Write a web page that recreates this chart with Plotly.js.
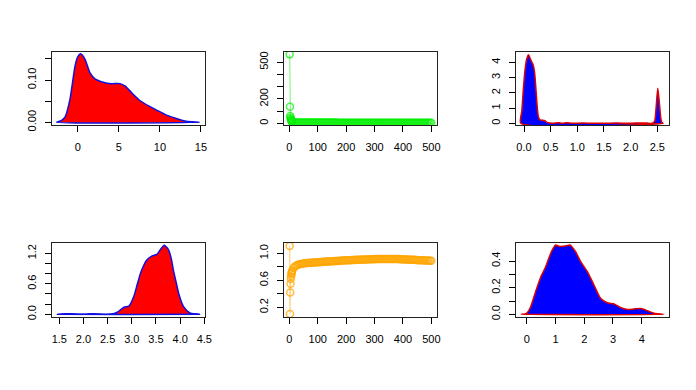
<!DOCTYPE html>
<html>
<head>
<meta charset="utf-8">
<script src="https://cdn.plot.ly/plotly-3.0.1.min.js"></script>
<style>
  html, body { margin: 0; padding: 0; background: #fff; }
  #chart { width: 696px; height: 390px; }
</style>
</head>
<body>
<div id="chart"></div>
<script>
// Panel 1: density, red fill / blue border
const dens1X = [-2.57, -2.0, -1.55, -0.94, -0.33, 0.0, 0.36, 0.89, 1.5, 2.1, 3.1, 4.1, 5.15, 5.75, 6.57, 7.6, 8.8, 9.6, 10.8, 12.0, 13.05, 13.9, 14.8];
const dens1Y = [0.0, 0.004, 0.012, 0.055, 0.133, 0.155, 0.162, 0.149, 0.117, 0.103, 0.095, 0.0915, 0.0915, 0.086, 0.070, 0.051, 0.037, 0.029, 0.017, 0.009, 0.003, 0.001, 0.0];

// Panel 2: green trace, 500 iterations (read every step, then every 5th)
const trace2X = [1, 2, 3, 4, 5, 6, 7, 8, 9, 10,
  15, 20, 25, 30, 35, 40, 45, 50, 55, 60, 65, 70, 75, 80, 85, 90, 95, 100,
  105, 110, 115, 120, 125, 130, 135, 140, 145, 150, 155, 160, 165, 170, 175, 180, 185, 190, 195, 200,
  205, 210, 215, 220, 225, 230, 235, 240, 245, 250, 255, 260, 265, 270, 275, 280, 285, 290, 295, 300,
  305, 310, 315, 320, 325, 330, 335, 340, 345, 350, 355, 360, 365, 370, 375, 380, 385, 390, 395, 400,
  405, 410, 415, 420, 425, 430, 435, 440, 445, 450, 455, 460, 465, 470, 475, 480, 485, 490, 495, 500];
const trace2Y = [565, 136, 60, 45, 35, 28, 22, 18, 15, 13,
  9, 7.5, 7, 6.8, 6.6, 6.5, 6.4, 6.3, 6.2, 6.2, 6.1, 6.1, 6.0, 6.0, 6.0, 5.9, 5.9, 5.9,
  5.8, 5.8, 5.8, 5.8, 5.7, 5.7, 5.7, 5.7, 5.6, 5.6, 5.6, 5.6, 5.6, 5.5, 5.5, 5.5, 5.5, 5.5, 5.4, 5.4,
  5.4, 5.4, 5.4, 5.3, 5.3, 5.3, 5.3, 5.3, 5.2, 5.2, 5.2, 5.2, 5.2, 5.1, 5.1, 5.1, 5.1, 5.1, 5.0, 5.0,
  5.0, 5.0, 5.0, 5.0, 4.9, 4.9, 4.9, 4.9, 4.9, 4.9, 4.8, 4.8, 4.8, 4.8, 4.8, 4.8, 4.7, 4.7, 4.7, 4.7,
  4.7, 4.7, 4.6, 4.6, 4.6, 4.6, 4.6, 4.6, 4.5, 4.5, 4.5, 4.5, 4.5, 4.5, 4.4, 4.4, 4.4, 4.4, 4.4, 4.4];

// Panel 3: density, blue fill / red border
const dens3X = [-0.06, -0.04, -0.013, 0.02, 0.05, 0.085, 0.11, 0.144, 0.175, 0.2, 0.225, 0.25, 0.27, 0.3, 0.35, 0.39, 0.43, 0.48, 0.55, 0.65, 0.72, 0.8, 0.9, 1.1, 1.3, 1.5, 1.75, 1.9, 2.1, 2.2, 2.3, 2.4, 2.45, 2.48, 2.51, 2.54, 2.57, 2.59, 2.61];
const dens3Y = [0, 0.8, 2.2, 3.5, 4.2, 4.5, 4.3, 4.04, 3.8, 3.3, 2.18, 1.0, 0.43, 0.22, 0.2, 0.17, 0.06, 0.02, 0.01, 0.03, 0.0, 0.03, 0.0, 0.02, 0.0, 0.0, 0.02, 0.0, 0.02, 0.02, 0.02, 0.0, 0.15, 1.1, 2.3, 1.3, 0.25, 0.03, 0];

// Panel 4: density, red fill / blue border
const dens4X = [1.46, 1.6, 1.7, 1.8, 2.0, 2.2, 2.3, 2.5, 2.62, 2.7, 2.76, 2.84, 2.94, 3.04, 3.11, 3.18, 3.25, 3.31, 3.42, 3.52, 3.59, 3.67, 3.76, 3.82, 3.86, 3.92, 3.97, 4.07, 4.2, 4.3, 4.4];
const dens4Y = [0, 0.005, 0.012, 0.005, 0.0, 0.01, 0.005, 0.0, 0.01, 0.04, 0.085, 0.14, 0.16, 0.35, 0.58, 0.81, 0.97, 1.07, 1.15, 1.18, 1.27, 1.36, 1.27, 1.08, 0.87, 0.62, 0.41, 0.15, 0.03, 0.005, 0];

// Panel 5: orange trace, 500 iterations
const trace5X = trace2X;
const trace5Y = [1.11, 0.10, 0.42, 0.55, 0.62, 0.66, 0.69, 0.71, 0.73, 0.745,
  0.785, 0.805, 0.82, 0.83, 0.838, 0.843, 0.847, 0.85, 0.852, 0.855, 0.857, 0.859, 0.861, 0.862, 0.864, 0.865, 0.866, 0.868,
  0.869, 0.871, 0.872, 0.874, 0.875, 0.877, 0.878, 0.88, 0.881, 0.883, 0.884, 0.886, 0.887, 0.888, 0.889, 0.891, 0.892, 0.893, 0.894, 0.896,
  0.897, 0.898, 0.899, 0.9, 0.901, 0.902, 0.903, 0.904, 0.905, 0.906, 0.907, 0.908, 0.909, 0.91, 0.91, 0.911, 0.912, 0.912, 0.913, 0.914,
  0.914, 0.915, 0.915, 0.916, 0.916, 0.916, 0.917, 0.917, 0.917, 0.917, 0.917, 0.917, 0.916, 0.916, 0.915, 0.915, 0.914, 0.913, 0.912, 0.911,
  0.91, 0.909, 0.908, 0.907, 0.906, 0.905, 0.904, 0.903, 0.902, 0.9, 0.899, 0.898, 0.897, 0.896, 0.895, 0.894, 0.893, 0.892, 0.891, 0.89];

// Panel 6: density, blue fill / red border
const dens6X = [-0.19, -0.05, 0.02, 0.14, 0.31, 0.49, 0.66, 0.86, 1.01, 1.12, 1.24, 1.38, 1.51, 1.6, 1.70, 1.88, 2.11, 2.34, 2.57, 2.8, 3.04, 3.27, 3.5, 3.73, 3.97, 4.2, 4.43, 4.76];
const dens6Y = [0, 0.003, 0.012, 0.057, 0.17, 0.28, 0.357, 0.47, 0.52, 0.51, 0.51, 0.515, 0.52, 0.5, 0.47, 0.395, 0.32, 0.22, 0.12, 0.087, 0.077, 0.05, 0.037, 0.04, 0.043, 0.027, 0.008, 0];

// Tick positions and labels for each panel
const ticks = {
  x1: [[0, 5, 10, 15], ['0', '5', '10', '15']],
  y1: [[0, 0.05, 0.10, 0.15], ['0.00', '', '0.10', '']],
  x2: [[0, 100, 200, 300, 400, 500], ['0', '100', '200', '300', '400', '500']],
  y2: [[0, 100, 200, 300, 400, 500], ['0', '', '200', '', '', '500']],
  x3: [[0, 0.5, 1, 1.5, 2, 2.5], ['0.0', '0.5', '1.0', '1.5', '2.0', '2.5']],
  y3: [[0, 1, 2, 3, 4], ['0', '1', '2', '3', '4']],
  x4: [[1.5, 2, 2.5, 3, 3.5, 4, 4.5], ['1.5', '2.0', '2.5', '3.0', '3.5', '4.0', '4.5']],
  y4: [[0, 0.2, 0.4, 0.6, 0.8, 1.0, 1.2], ['0.0', '', '', '0.6', '', '', '1.2']],
  x5: [[0, 100, 200, 300, 400, 500], ['0', '100', '200', '300', '400', '500']],
  y5: [[0.2, 0.4, 0.6, 0.8, 1.0], ['0.2', '', '0.6', '', '1.0']],
  x6: [[0, 1, 2, 3, 4], ['0', '1', '2', '3', '4']],
  y6: [[0, 0.1, 0.2, 0.3, 0.4], ['0.0', '', '0.2', '', '0.4']]
};

const ranges = {
  x1: [-3.13, 15.49], y1: [-0.0064, 0.1664],
  x2: [-18.96, 519.96], y2: [-13.9, 584.4],
  x3: [-0.15, 2.72], y3: [-0.11, 4.675],
  x4: [1.349, 4.514], y4: [-0.053, 1.403],
  x5: [-18.96, 519.96], y5: [0.056, 1.153],
  x6: [-0.372, 4.95], y6: [-0.02, 0.535]
};

const W = 696, H = 390;
const cols = [[52, 205], [284, 437], [516, 669]];
const rows = [[52, 125], [243, 317]];

/* closes a density polygon like R's polygon() does */
const densTrace = (xs, ys, fill, border) => ({
  x: xs.concat([xs[0]]),
  y: ys.concat([ys[0]]),
  mode: 'lines',
  fill: 'toself',
  fillcolor: fill,
  line: {color: border, width: 1.5, shape: 'spline', smoothing: 0.6},
  hoverinfo: 'skip'
});

const chainTrace = (xs, ys, lineCol, markCol) => ({
  x: xs, y: ys,
  mode: 'lines+markers',
  line: {color: lineCol, width: 1.2},
  marker: {symbol: 'circle-open', size: 7, color: markCol, line: {width: 1.5, color: markCol}},
  hoverinfo: 'skip'
});

const data = [
  densTrace(dens1X, dens1Y, '#ff0000', '#1010e0'),
  chainTrace(trace2X, trace2Y, 'rgba(0,230,0,0.45)', 'rgba(0,240,0,0.7)'),
  densTrace(dens3X, dens3Y, '#0000ff', '#dd0000'),
  densTrace(dens4X, dens4Y, '#ff0000', '#1010e0'),
  chainTrace(trace5X, trace5Y, 'rgba(255,165,0,0.5)', 'rgba(255,165,0,0.75)'),
  densTrace(dens6X, dens6Y, '#0000ff', '#dd0000')
];

const axisStyle = {
  showline: true, mirror: true, linecolor: '#222', linewidth: 1,
  ticks: 'outside', ticklen: 6, tickcolor: '#000', tickwidth: 1,
  showgrid: false, zeroline: false, fixedrange: true,
  tickfont: {family: 'Liberation Sans, Arial, sans-serif', size: 11, color: '#000'},
  tickmode: 'array'
};

const layout = {
  width: W, height: H,
  margin: {l: 0, r: 0, t: 0, b: 0},
  paper_bgcolor: '#fff', plot_bgcolor: '#fff',
  showlegend: false
};

for (let n = 1; n <= 6; ++n) {
  const col = cols[(n - 1) % 3], row = rows[Math.floor((n - 1) / 3)];
  const sfx = n === 1 ? '' : n;
  layout['xaxis' + sfx] = Object.assign({}, axisStyle, {
    domain: [col[0] / W, col[1] / W],
    range: ranges['x' + n],
    anchor: 'y' + sfx,
    tickvals: ticks['x' + n][0], ticktext: ticks['x' + n][1],
    ticklabelstandoff: 6
  });
  layout['yaxis' + sfx] = Object.assign({}, axisStyle, {
    domain: [1 - row[1] / H, 1 - row[0] / H],
    range: ranges['y' + n],
    anchor: 'x' + sfx,
    tickvals: ticks['y' + n][0], ticktext: ticks['y' + n][1],
    tickangle: -90,
    ticklabelstandoff: 5
  });
}
data.forEach((t, i) => {
  const sfx = i === 0 ? '' : i + 1;
  t.xaxis = 'x' + sfx; t.yaxis = 'y' + sfx;
});

Plotly.newPlot('chart', data, layout, {staticPlot: true, displayModeBar: false});
</script>
</body>
</html>
